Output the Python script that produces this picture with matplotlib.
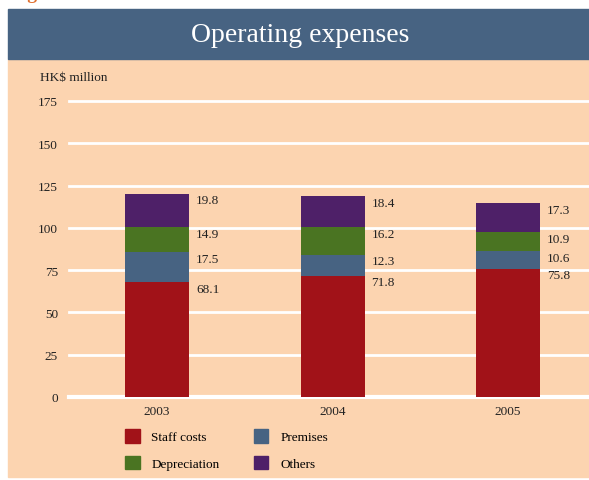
import matplotlib
matplotlib.use("Agg")
import matplotlib.pyplot as plt
from matplotlib.patches import Rectangle, Patch
import numpy as np

years = ["2003", "2004", "2005"]
staff = [68.1, 71.8, 75.8]
premises = [17.5, 12.3, 10.6]
depreciation = [14.9, 16.2, 10.9]
others = [19.8, 18.4, 17.3]
series_names = ["Staff costs", "Premises", "Depreciation", "Others"]
yticks = [0, 25, 50, 75, 100, 125, 150, 175]

colors = {"Staff costs": "#A11218", "Premises": "#476382",
          "Depreciation": "#4A7422", "Others": "#4E2068"}
peach = "#FCD4B0"
band = "#476382"
FONT = "Liberation Serif"

W, H = 589, 481
fig = plt.figure(figsize=(W / 100, H / 100), dpi=100)
fig.patch.set_facecolor("white")

def fx(px): return px / W
def fy(py): return 1 - py / H

# peach panel and title band
fig.patches.append(Rectangle((fx(8), fy(478)), 1 - fx(8), fy(60) - fy(478),
                             transform=fig.transFigure, color=peach, zorder=-10))
fig.patches.append(Rectangle((fx(8), fy(60)), 1 - fx(8), fy(10) - fy(60),
                             transform=fig.transFigure, color=band, zorder=-10))
fig.text(fx(300), fy(35), "Operating expenses", color="white", fontsize=20,
         family=FONT, ha="center", va="center")
fig.text(fx(10), fy(-1), "Figure 3", color="#E07030", fontsize=14,
         family=FONT, weight="bold", ha="left", va="baseline")

# axes
ax_left, ax_right = 69, 589
ax_top, ax_bottom = 102, 398
ax = fig.add_axes([fx(ax_left), fy(ax_bottom), fx(ax_right) - fx(ax_left),
                   fy(ax_top) - fy(ax_bottom)])
ax.set_facecolor("none")
ax.patch.set_alpha(0)
spacing = 175.5
c0 = 157
ax.set_xlim(-(c0 - ax_left) / spacing, (ax_right - c0) / spacing)
ax.set_ylim(0, 175)
for s in ax.spines.values():
    s.set_visible(False)
ax.set_yticks(yticks)
ax.set_yticklabels([str(t) for t in yticks], family=FONT, fontsize=9.5, color="#222222")
ax.tick_params(axis="y", length=0, pad=8)
ax.tick_params(axis="x", length=0, pad=6)
for t in yticks:
    ax.axhline(t, color="white", lw=3 if t == 0 else 2, zorder=1, clip_on=False)

x = np.arange(len(years))
ax.set_xticks(x)
ax.set_xticklabels(years, family=FONT, fontsize=9.5, color="#222222")

bw = 64 / spacing
bottom = np.zeros(len(years))
data = {"Staff costs": staff, "Premises": premises,
        "Depreciation": depreciation, "Others": others}
for name in series_names:
    vals = np.array(data[name])
    ax.bar(x, vals, bw, bottom=bottom, color=colors[name], zorder=2)
    tops = bottom + vals
    for xi, top, v in zip(x, tops, vals):
        ax.annotate(f"{v:.1f}", (xi + bw / 2, top), xytext=(5, -0.5),
                    textcoords="offset points", ha="left", va="top",
                    family=FONT, fontsize=9.5, color="#222222")
    bottom = tops

fig.text(fx(40), fy(78), "HK$ million", family=FONT, fontsize=9.5,
         color="#222222", ha="left", va="center")

handles = [Patch(color=colors[n]) for n in ["Staff costs", "Depreciation", "Premises", "Others"]]
labels = ["Staff costs", "Depreciation", "Premises", "Others"]
fig.legend(handles, labels, ncol=2, loc="upper left",
           bbox_to_anchor=(fx(125), fy(430)), frameon=False,
           prop={"family": FONT, "size": 9.5}, handlelength=1.1,
           handleheight=1.2, handletextpad=0.9, columnspacing=2.6,
           labelspacing=0.95, borderpad=0, borderaxespad=0)

fig.savefig("out.png", dpi=100)
